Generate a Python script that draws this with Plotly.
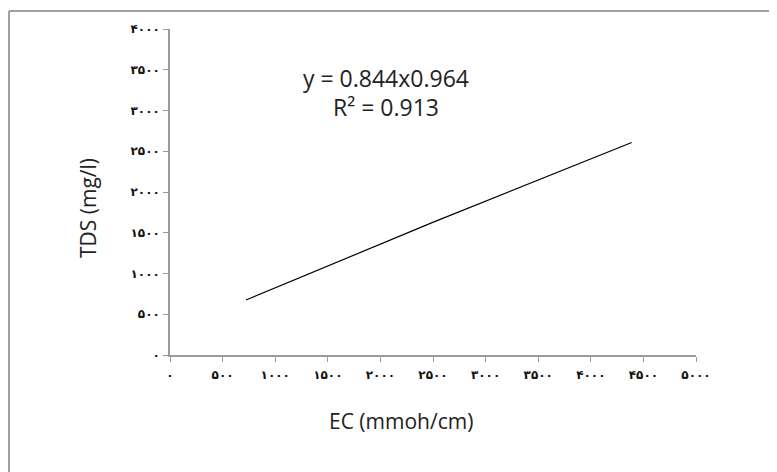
import plotly.graph_objects as go

# Data
ec_values = [722, 2503, 4389]
tds_values = [675, 1630, 2607]
x_tick_vals = [0, 500, 1000, 1500, 2000, 2500, 3000, 3500, 4000, 4500, 5000]
x_tick_text = ['۰', '۵۰۰', '۱۰۰۰', '۱۵۰۰', '۲۰۰۰', '۲۵۰۰', '۳۰۰۰', '۳۵۰۰', '۴۰۰۰', '۴۵۰۰', '۵۰۰۰']
y_tick_vals = [0, 500, 1000, 1500, 2000, 2500, 3000, 3500, 4000]
y_tick_text = ['۰', '۵۰۰', '۱۰۰۰', '۱۵۰۰', '۲۰۰۰', '۲۵۰۰', '۳۰۰۰', '۳۵۰۰', '۴۰۰۰']
equation_text = "y = 0.844x0.964"
r2_text = "R² = 0.913"

OFF = 8  # page body margin offset
W, H = 777 - OFF, 472 - OFF
L = 170 - OFF
T = 29 - OFF
R = W - (696 - OFF)
B = H - (355 - OFF)
pw, ph = W - L - R, H - T - B

def px(x):
    return (x - OFF - L) / pw

def py(y):
    return (H - B - (y - OFF)) / ph

fig = go.Figure()
fig.add_trace(go.Scatter(x=ec_values, y=tds_values, mode="lines",
                         line=dict(color="black", width=1.2, shape="spline"),
                         showlegend=False, hoverinfo="skip"))

axis_common = dict(showgrid=False, zeroline=False, showline=True,
                   linecolor="#9a9a9a", linewidth=1.5, ticks="outside",
                   ticklen=5, tickcolor="#9a9a9a", tickwidth=1.2,
                   automargin=False,
                   tickfont=dict(family="DejaVu Sans", size=12, color="#111",
                                 weight="bold"))

fig.update_layout(
    width=W, height=H,
    margin=dict(l=L, r=R, t=T, b=B, autoexpand=False),
    paper_bgcolor="white", plot_bgcolor="white",
    xaxis=dict(range=[0, 5000], tickvals=x_tick_vals, ticktext=x_tick_text,
               ticklabelstandoff=3, **axis_common),
    yaxis=dict(range=[0, 4000], tickvals=y_tick_vals, ticktext=y_tick_text,
               ticklabelstandoff=1, **axis_common),
    font=dict(family="Open Sans", color="#222"),
)

# Frame lines (top and left visible in the reference)
fig.add_shape(type="line", xref="paper", yref="paper",
              x0=px(OFF + 1), x1=px(777), y0=py(11), y1=py(11),
              line=dict(color="#a0a0a0", width=2))
fig.add_shape(type="line", xref="paper", yref="paper",
              x0=px(OFF + 1), x1=px(OFF + 1), y0=py(11), y1=py(472),
              line=dict(color="#a0a0a0", width=2))

fig.add_annotation(text=equation_text, xref="paper", yref="paper",
                   x=px(386), y=py(60), showarrow=False,
                   font=dict(family="Open Sans", size=23, color="#222"))
fig.add_annotation(text=r2_text, xref="paper", yref="paper",
                   x=px(386), y=py(89), showarrow=False,
                   font=dict(family="Open Sans", size=23, color="#222"))
fig.add_annotation(text="TDS (mg/l)", xref="paper", yref="paper",
                   x=px(72), y=py(208), showarrow=False, textangle=-90,
                   font=dict(family="Open Sans", size=21, color="#222"))
fig.add_annotation(text="EC (mmoh/cm)", xref="paper", yref="paper",
                   x=px(401), y=py(437), showarrow=False,
                   font=dict(family="Open Sans", size=21, color="#222"))

fig.write_html("out.html")
